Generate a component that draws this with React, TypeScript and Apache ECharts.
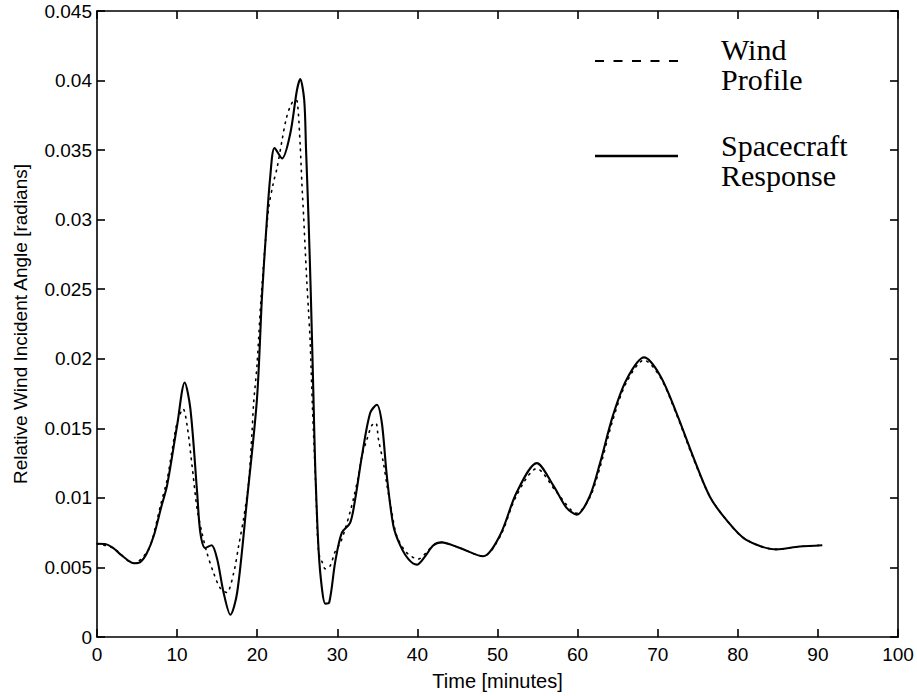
import React, { useEffect, useRef } from "react";
import * as echarts from "echarts";

const responseTime = [0, 1, 2, 3, 4, 4.6, 5.4, 6.2, 7.1, 8, 8.75, 10, 10.95, 11.66, 12.5, 12.9, 13.5, 14.3, 15.0, 15.8, 16.65, 17.5, 18.7, 19.97, 20.6, 21.13, 21.63, 22.17, 23.1, 24.13, 24.96, 25.37, 25.87, 26.1, 26.4, 26.7, 27.03, 27.24, 27.66, 28.08, 28.5, 29.0, 29.74, 30.57, 31.6, 32.23, 33.07, 34.1, 34.94, 35.56, 36.18, 37.0, 37.84, 38.88, 39.93, 40.96, 42.0, 43.0, 45.3, 48.2, 50.3, 52.4, 54.9, 56.96, 58.6, 59.9, 61.5, 62.8, 64.4, 66.1, 68.3, 70.3, 72.35, 74.4, 76.5, 78.6, 81.0, 84.8, 87.7, 90.55];
const responseAngle = [0.0067, 0.00668, 0.0064, 0.0059, 0.00545, 0.0053, 0.00538, 0.0060, 0.0073, 0.0093, 0.0109, 0.0152, 0.0183, 0.0164, 0.0104, 0.0075, 0.0064, 0.0066, 0.0056, 0.0032, 0.0016, 0.0032, 0.0097, 0.0171, 0.0245, 0.0293, 0.0331, 0.03515, 0.0344, 0.0362, 0.0393, 0.0401, 0.0386, 0.035, 0.0302, 0.0245, 0.0171, 0.0123, 0.0063, 0.0035, 0.0024, 0.0025, 0.0054, 0.0075, 0.0082, 0.0099, 0.013, 0.0161, 0.0167, 0.0154, 0.0116, 0.008, 0.0066, 0.0056, 0.0052, 0.0058, 0.0066, 0.0068, 0.0064, 0.0058, 0.0073, 0.0104, 0.0125, 0.0109, 0.0093, 0.0088, 0.0101, 0.0125, 0.0159, 0.0185, 0.0201, 0.0188, 0.0161, 0.013, 0.0101, 0.0084, 0.007, 0.0063, 0.0065, 0.0066];

const windTime = [0, 2, 4.6, 6.26, 6.9, 7.9, 8.75, 9.4, 10.0, 10.75, 11.25, 11.87, 12.5, 13.1, 13.7, 14.56, 15.4, 16.2, 17.06, 17.7, 18.3, 18.93, 19.35, 19.55, 19.97, 20.5, 21.4, 22.0, 22.47, 23.1, 23.6, 24.1, 24.67, 25.0, 25.37, 25.58, 25.8, 26.0, 26.2, 26.4, 26.6, 26.9, 27.3, 27.66, 28.1, 28.5, 29.1, 29.7, 30.4, 31.0, 31.6, 32.0, 32.65, 33.07, 33.7, 34.3, 34.8, 35.14, 35.76, 36.2, 36.8, 37.4, 38.6, 40.1, 41.0, 42.0, 43.0, 45.3, 48.2, 50.3, 52.4, 54.9, 57.4, 59.9, 61.5, 62.8, 64.4, 66.1, 68.3, 70.3, 72.35, 74.4, 76.5, 78.6, 81.0, 84.8, 87.7, 90.55];
const windAngle = [0.0067, 0.0064, 0.0053, 0.0061, 0.007, 0.0094, 0.0113, 0.0135, 0.0154, 0.0164, 0.0152, 0.0123, 0.0092, 0.0075, 0.0061, 0.0046, 0.0035, 0.0032, 0.0046, 0.0066, 0.0085, 0.0111, 0.0147, 0.0168, 0.0195, 0.0245, 0.0307, 0.0326, 0.0337, 0.0357, 0.0372, 0.0381, 0.0386, 0.0385, 0.0353, 0.0326, 0.0302, 0.0278, 0.0255, 0.0235, 0.0214, 0.0165, 0.011, 0.0061, 0.0054, 0.0049, 0.0051, 0.0061, 0.0068, 0.0078, 0.009, 0.0099, 0.0116, 0.013, 0.0142, 0.0152, 0.0154, 0.0142, 0.0125, 0.0109, 0.009, 0.0073, 0.0061, 0.0056, 0.006, 0.0066, 0.0068, 0.0064, 0.0058, 0.0072, 0.0102, 0.0121, 0.0104, 0.0089, 0.01, 0.0122, 0.0156, 0.0183, 0.0199, 0.0187, 0.016, 0.0129, 0.0101, 0.0084, 0.007, 0.0063, 0.0065, 0.0066];

const xTicks = { min: 0, max: 100, interval: 10 };
const yTicks = { min: 0, max: 0.045, interval: 0.005 };
const xTitle = "Time [minutes]";
const yTitle = "Relative Wind Incident Angle [radians]";
const legendWind = ["Wind", "Profile"];
const legendResponse = ["Spacecraft", "Response"];

const sans = "'Liberation Sans', Arial, Helvetica, sans-serif";
const serif = "'Liberation Serif', 'Times New Roman', serif";

export default function App() {
  const ref = useRef<HTMLDivElement>(null);
  useEffect(() => {
    document.body.style.margin = "0";
    if (!ref.current) return;
    const chart = echarts.init(ref.current, undefined, { renderer: "svg" });
    const axisCommon = {
      axisLine: { show: true, onZero: false, lineStyle: { color: "#000", width: 1.6 } },
      axisTick: { show: true, inside: true, length: 8, lineStyle: { color: "#000", width: 1.6 } },
      splitLine: { show: false },
    };
    const toPairs = (xs: number[], ys: number[]) => xs.map((x, i) => [x, ys[i]]);
    const legendText = (text: string, y: number) => ({
      type: "text",
      x: 721,
      y,
      style: { text, fontSize: 30, fontFamily: serif, fill: "#000", verticalAlign: "middle" },
    });
    chart.setOption({
      animation: false,
      backgroundColor: "#fff",
      grid: { left: 97, top: 11, width: 801, height: 627, containLabel: false },
      xAxis: [
        {
          type: "value",
          ...xTicks,
          position: "bottom",
          ...axisCommon,
          axisLabel: { color: "#000", fontSize: 19, fontFamily: sans, margin: 8 },
          name: xTitle,
          nameLocation: "middle",
          nameGap: 34,
          nameTextStyle: { color: "#000", fontSize: 20, fontFamily: sans },
        },
        {
          type: "value",
          ...xTicks,
          position: "top",
          ...axisCommon,
          axisLabel: { show: false },
        },
      ],
      yAxis: [
        {
          type: "value",
          ...yTicks,
          position: "left",
          ...axisCommon,
          axisLabel: {
            color: "#000",
            fontSize: 19,
            fontFamily: sans,
            margin: 5,
            formatter: (v: number) => String(+v.toFixed(3)),
          },
          name: yTitle,
          nameLocation: "middle",
          nameGap: 67,
          nameTextStyle: { color: "#000", fontSize: 19, fontFamily: sans },
        },
        {
          type: "value",
          ...yTicks,
          position: "right",
          ...axisCommon,
          axisLabel: { show: false },
        },
      ],
      series: [
        {
          name: "Wind Profile",
          type: "line",
          data: toPairs(windTime, windAngle),
          smooth: 0.3,
          showSymbol: false,
          symbol: "none",
          lineStyle: { color: "#000", width: 1.6, type: [1.5, 5.5], cap: "round" },
          z: 2,
        },
        {
          name: "Spacecraft Response",
          type: "line",
          data: toPairs(responseTime, responseAngle),
          smooth: 0.3,
          showSymbol: false,
          symbol: "none",
          lineStyle: { color: "#000", width: 2.1 },
          z: 3,
        },
      ],
      graphic: [
        {
          type: "line",
          shape: { x1: 595, y1: 61, x2: 678, y2: 61 },
          style: { stroke: "#000", lineWidth: 1.8, lineDash: [9, 9.5] },
        },
        {
          type: "line",
          shape: { x1: 595, y1: 156, x2: 678, y2: 156 },
          style: { stroke: "#000", lineWidth: 2.5 },
        },
        legendText(legendWind[0], 49),
        legendText(legendWind[1], 79),
        legendText(legendResponse[0], 145),
        legendText(legendResponse[1], 175),
      ],
    });
    return () => chart.dispose();
  }, []);
  return <div ref={ref} style={{ width: 917, height: 696 }} />;
}
